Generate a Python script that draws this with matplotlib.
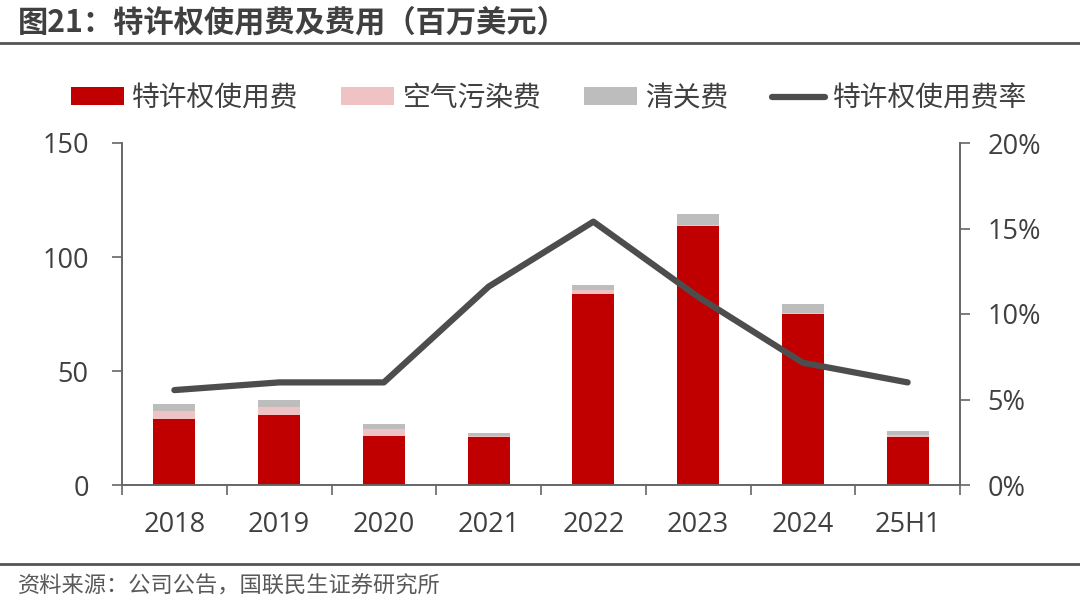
import matplotlib
matplotlib.use("Agg")
import matplotlib.pyplot as plt
from matplotlib.ticker import FixedLocator, FuncFormatter
import numpy as np

plt.rcParams['font.family'] = ['Noto Sans CJK SC', 'DejaVu Sans']

years = ["2018", "2019", "2020", "2021", "2022", "2023", "2024", "25H1"]
royalty = [28.8, 30.6, 21.6, 21.2, 83.8, 113.6, 75.0, 20.9]
air_fee = [3.5, 3.6, 2.8, 0.5, 1.7, 0.5, 0.4, 0.9]
customs = [3.1, 2.9, 2.4, 1.1, 2.2, 4.8, 3.9, 1.9]
royalty_rate = [5.55, 6.0, 6.0, 11.6, 15.4, 11.0, 7.15, 6.0]

red = "#C00000"
pink = "#EFC3C3"
gray = "#BDBDBD"
line_c = "#4D4D4D"
txt = "#404040"
axis_c = "#666666"
num_font = ["Open Sans", "DejaVu Sans"]

fig = plt.figure(figsize=(10.8, 6.07), dpi=100)
ax = fig.add_axes([122/1080, 1-485/607, (960-122)/1080, (485-143)/607])
x = np.arange(len(years))
w = 0.4
b1 = ax.bar(x, royalty, w, color=red, label="特许权使用费")
bottom2 = np.array(royalty)
b2 = ax.bar(x, air_fee, w, bottom=bottom2, color=pink, label="空气污染费")
bottom3 = bottom2 + np.array(air_fee)
b3 = ax.bar(x, customs, w, bottom=bottom3, color=gray, label="清关费")

ax.set_xlim(-0.5, len(years) - 0.5)
ax.set_ylim(0, 150)
ax.set_yticks([0, 50, 100, 150])
ax.set_xticks(x)
ax.set_xticklabels(years)
ax.xaxis.set_minor_locator(FixedLocator(np.arange(-0.5, len(years), 1)))
ax.tick_params(axis="x", which="major", length=0, pad=19, labelsize=19.5, colors=txt)
ax.tick_params(axis="x", which="minor", length=7, width=1.2, color=axis_c)
ax.tick_params(axis="y", length=7, width=1.2, color=axis_c, labelsize=19.5, labelcolor=txt, pad=17)
for lab in ax.get_xticklabels() + ax.get_yticklabels():
    lab.set_family(num_font)
ax.spines["top"].set_visible(False)
for s in ["left", "right", "bottom"]:
    ax.spines[s].set_color(axis_c)
    ax.spines[s].set_linewidth(1.2)

ax2 = ax.twinx()
l1, = ax2.plot(x, royalty_rate, color=line_c, lw=4.5, solid_capstyle="round",
               label="特许权使用费率")
ax2.set_ylim(0, 20)
ax2.set_yticks([0, 5, 10, 15, 20])
ax2.yaxis.set_major_formatter(FuncFormatter(lambda v, p: f"{int(v)}%"))
ax2.tick_params(axis="y", length=7, width=1.2, color=axis_c, labelsize=19.5, labelcolor=txt, pad=13)
for lab in ax2.get_yticklabels():
    lab.set_family(num_font)
ax2.spines["top"].set_visible(False)
for s in ["left", "right", "bottom"]:
    ax2.spines[s].set_color(axis_c)
    ax2.spines[s].set_linewidth(1.2)

fig.legend(handles=[b1, b2, b3, l1], loc="center", bbox_to_anchor=(549/1080, 1-98/607),
           ncol=4, frameon=False, fontsize=20, handlelength=1.9, handleheight=0.6,
           columnspacing=1.55, handletextpad=0.3, labelcolor=txt)

fig.text(18/1080, 1-22/607, "图21：特许权使用费及费用（百万美元）", fontsize=21.8,
         fontweight="bold", color="#404040", va="center", ha="left")
fig.add_artist(plt.Line2D([0, 1], [1-43/607, 1-43/607], color="#555555", lw=2))
fig.add_artist(plt.Line2D([0, 1], [1-564/607, 1-564/607], color="#555555", lw=2))
fig.text(18/1080, 1-586/607, "资料来源：公司公告，国联民生证券研究所", fontsize=16,
         color="#595959", va="center", ha="left")

fig.savefig("out.png", dpi=100)
